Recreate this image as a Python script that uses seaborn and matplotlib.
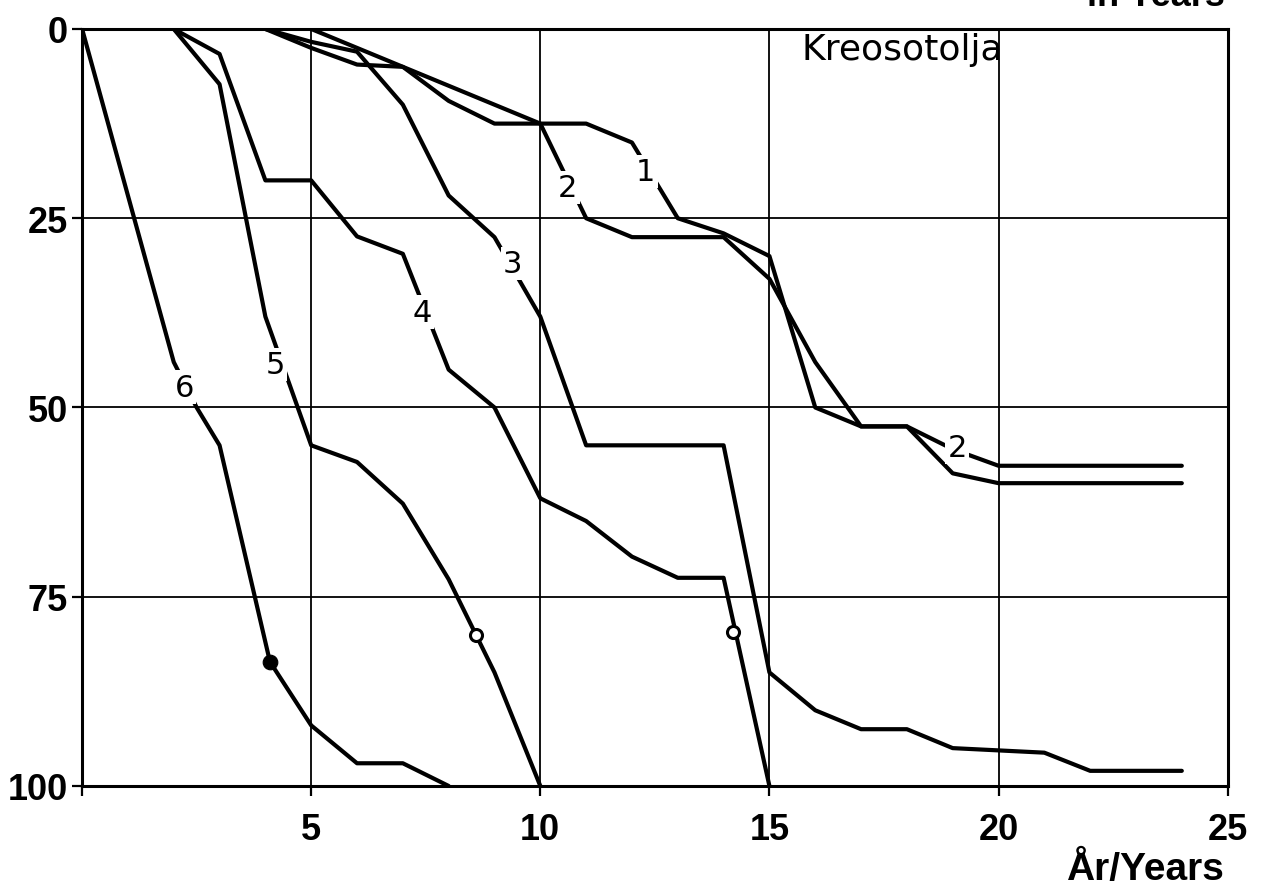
import matplotlib

matplotlib.use("Agg")
import matplotlib.pyplot as plt
import seaborn as sns

# ---------------------------------------------------------------------------
# Data (x = years, y = percent, axis inverted)
# ---------------------------------------------------------------------------
c1_x = [4, 5, 6, 7, 8, 9, 10, 11, 12, 13, 14, 15, 16, 17, 18, 19, 20, 24]
c1_y = [0, 2.5, 4.7, 5, 9.5, 12.5, 12.5, 12.5, 15, 25, 27, 30, 50, 52.5, 52.5, 58.7, 60, 60]

c2_x = [5, 6, 7, 8, 9, 10, 11, 12, 13, 14, 15, 16, 17, 18, 19, 20, 24]
c2_y = [0, 2.5, 5, 7.5, 10, 12.5, 25, 27.5, 27.5, 27.5, 33, 44, 52.5, 52.5, 55.5, 57.7, 57.7]

c3_x = [4, 5, 6, 7, 8, 9, 10, 11, 12, 13, 14, 15, 16, 17, 18, 19, 20, 21, 22, 23, 24]
c3_y = [0, 1.7, 3, 10, 22, 27.5, 38, 55, 55, 55, 55, 85, 90, 92.5, 92.5, 95, 95.3, 95.6, 98, 98, 98]

c4_x = [2, 3, 4, 5, 6, 7, 8, 9, 10, 11, 12, 13, 14, 15]
c4_y = [0, 3.3, 20, 20, 27.4, 29.7, 45, 50, 62, 65, 69.7, 72.5, 72.5, 100]

c5_x = [2, 3, 4, 5, 6, 7, 8, 9, 10]
c5_y = [0, 7.3, 38, 55, 57.2, 62.7, 72.7, 85, 100]

c6_x = [0, 1, 2, 2.5, 3, 4.1, 5, 6, 7, 8]
c6_y = [0, 22, 44, 50, 55, 83.6, 92, 97, 97, 100]

dot_x = [4.1]
dot_y = [83.6]
ring_x = [8.6, 14.2]
ring_y = [80, 79.7]

curve_labels = ["1", "2", "3", "4", "5", "6", "2"]
label_x = [12.3, 10.6, 9.4, 7.42, 4.21, 2.23, 19.1]
label_y = [18.8, 20.9, 31, 37.4, 44.3, 47.3, 55.3]

x_ticks = [0, 5, 10, 15, 20, 25]
x_ticklabels = ["", "5", "10", "15", "20", "25"]
y_ticks = [0, 25, 50, 75, 100]

# ---------------------------------------------------------------------------
sns.set_style("ticks")
plt.rcParams["font.family"] = ["DejaVu Sans"]
plt.rcParams["text.color"] = "black"
plt.rcParams["axes.labelcolor"] = "black"
BOLD = ["Liberation Sans", "DejaVu Sans"]

fig = plt.figure(figsize=(12.63, 8.95), dpi=100)
ax = fig.add_axes([0.065, 0.1207, 0.907, 0.8458])

for xs, ys in [(c1_x, c1_y), (c2_x, c2_y), (c3_x, c3_y),
               (c4_x, c4_y), (c5_x, c5_y), (c6_x, c6_y)]:
    sns.lineplot(x=xs, y=ys, color="black", lw=3, sort=False, ax=ax,
                 solid_capstyle="round", solid_joinstyle="round", zorder=3)

sns.scatterplot(x=dot_x, y=dot_y, color="black", s=110, ax=ax, zorder=5,
                edgecolor="black")
sns.scatterplot(x=ring_x, y=ring_y, color="white", s=75, ax=ax, zorder=5,
                edgecolor="black", linewidth=2.2)

for txt, lx, ly in zip(curve_labels, label_x, label_y):
    ax.text(lx, ly, txt, fontsize=22, ha="center", va="center", zorder=6,
            color="black", bbox=dict(facecolor="white", edgecolor="none", pad=1.5))

ax.text(15.7, 2.7, "Kreosotolja", fontsize=26, ha="left", va="center",
        color="black", zorder=6)

ax.set_xlim(0, 25)
ax.set_ylim(100, 0)
ax.set_xticks(x_ticks)
ax.set_xticklabels(x_ticklabels)
ax.set_yticks(y_ticks)
ax.grid(True, color="black", lw=1.3, zorder=1)
ax.set_axisbelow(True)
for sp in ax.spines.values():
    sp.set_linewidth(2.2)
    sp.set_color("black")

ax.tick_params(axis="both", direction="out", length=7, width=1.6, colors="black",
               labelsize=26)
ax.tick_params(axis="x", pad=12)
ax.tick_params(axis="y", pad=3)
for lab in ax.get_xticklabels() + ax.get_yticklabels():
    lab.set_fontweight("bold")
    lab.set_family(BOLD)

ax.set_xlabel("")
ax.set_ylabel("")
fig.text(0.97, 0.008, "År/Years", ha="right", va="bottom", fontsize=28,
         fontweight="bold", family=BOLD, color="black")
# text cut off at the top edge of the original scan
fig.text(0.97, 0.984, "in Years", ha="right", va="bottom", fontsize=26,
         fontweight="bold", family=BOLD, color="black")

fig.savefig("out.png", dpi=100)
